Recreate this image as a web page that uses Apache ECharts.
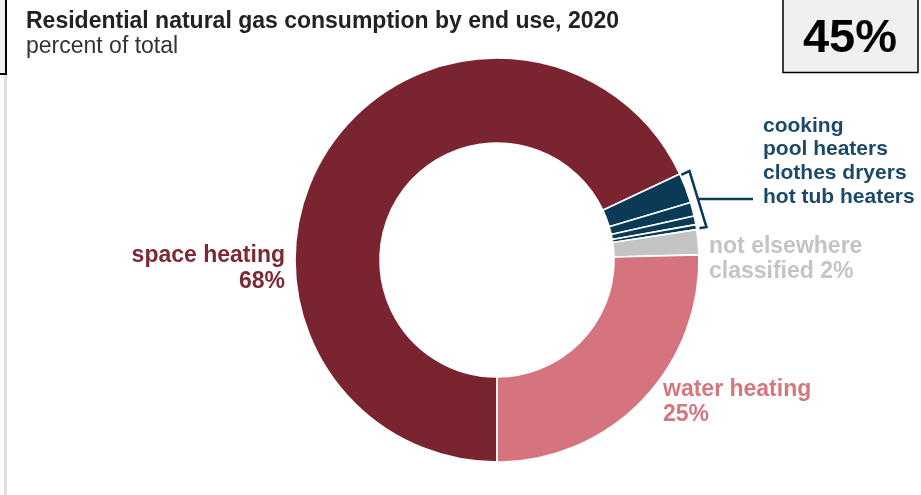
<!DOCTYPE html>
<html>
<head>
<meta charset="utf-8">
<script src="https://cdn.jsdelivr.net/npm/echarts@6/dist/echarts.min.js"></script>
<style>
html,body{margin:0;padding:0;background:#fff;}
#chart{width:921px;height:495px;}
</style>
</head>
<body>
<div id="chart"></div>
<script>
// ---- data ----
const titleText = 'Residential natural gas consumption by end use, 2020';
const subtitleText = 'percent of total';
const categories = ['space heating', 'cooking', 'pool heaters', 'clothes dryers', 'hot tub heaters', 'not elsewhere classified', 'water heating'];
const values = [68, 2.4, 1.1, 0.7, 0.4, 2.0, 25.4];
const badgeText = '45%';

// ---- styles ----
const sliceColors = ['#7a2430', '#0a3a56', '#0a3a56', '#0a3a56', '#0a3a56', '#c4c4c4', '#d5747f'];
const FONT = '"Liberation Sans", Arial, sans-serif';
const cx = 497, cy = 260, rIn = 117, rOut = 202;

const chart = echarts.init(document.getElementById('chart'), null, {renderer: 'canvas'});

const total = values.reduce((a, b) => a + b, 0);
function boundaryAngle(idx) { // math angle (deg) at cumulative boundary before idx
  let s = 0;
  for (let i = 0; i < idx; i++) s += values[i];
  return -90 - 360 * s / total;
}
function pt(angDeg, r) {
  const a = angDeg * Math.PI / 180;
  return [cx + r * Math.cos(a), cy - r * Math.sin(a)];
}

// bracket around the small navy slices (indices 1..4)
const a0 = boundaryAngle(1) - 0.4, a1 = boundaryAngle(5) + 0.3;
const p1 = pt(a0, 203), p2 = pt(a0, 212), p3 = pt(a1, 212), p4 = pt(a1, 205);
const mid = [(p2[0] + p3[0]) / 2, (p2[1] + p3[1]) / 2];

const pct = v => Math.round(v) + '%';
const necWords = categories[5].split(' ');

const labelSpace = categories[0] + '\n' + pct(values[0]);
const labelSmall = categories.slice(1, 5).join('\n');
const labelNec = necWords.slice(0, 2).join(' ') + '\n' + necWords.slice(2).join(' ') + ' ' + pct(values[5]);
const labelWater = categories[6] + '\n' + pct(values[6]);

const option = {
  animation: false,
  backgroundColor: '#ffffff',
  series: [{
    type: 'pie',
    center: [cx, cy],
    radius: [rIn, rOut],
    startAngle: -90,
    clockwise: true,
    silent: true,
    avoidLabelOverlap: false,
    label: {show: false},
    labelLine: {show: false},
    itemStyle: {borderColor: '#ffffff', borderWidth: 1.6},
    data: categories.map((c, i) => ({name: c, value: values[i], itemStyle: {color: sliceColors[i]}}))
  }],
  graphic: [
    // left frame artefacts
    {type: 'rect', shape: {x: -10, y: -10, width: 16, height: 84}, style: {fill: '#f0f0f0', stroke: '#000', lineWidth: 2}},
    {type: 'rect', shape: {x: 4, y: 75, width: 3, height: 430}, style: {fill: '#e0e0e0'}},
    // badge
    {type: 'rect', shape: {x: 783, y: -3, width: 135, height: 75.5}, style: {fill: '#f0f0f0', stroke: '#000', lineWidth: 1.5}},
    {type: 'text', style: {text: badgeText, x: 850, y: 16, font: 'bold 47px ' + FONT, fill: '#000', align: 'center', verticalAlign: 'top', lineHeight: 46}},
    // title
    {type: 'text', style: {text: titleText, x: 26, y: 10, font: 'bold 23px ' + FONT, fill: '#222', align: 'left', verticalAlign: 'top', lineHeight: 23}},
    {type: 'text', style: {text: subtitleText, x: 26, y: 35, font: '23px ' + FONT, fill: '#333', align: 'left', verticalAlign: 'top', lineHeight: 23}},
    // labels
    {type: 'text', style: {text: labelSpace, x: 285, y: 243, font: 'bold 23px ' + FONT, fill: '#7b2a35', align: 'right', verticalAlign: 'top', lineHeight: 26}},
    {type: 'text', style: {text: labelSmall, x: 763, y: 114, font: 'bold 21px ' + FONT, fill: '#1b4a68', align: 'left', verticalAlign: 'top', lineHeight: 23.7}},
    {type: 'text', style: {text: labelNec, x: 709, y: 234.5, font: 'bold 23px ' + FONT, fill: '#c4c4c4', align: 'left', verticalAlign: 'top', lineHeight: 25}},
    {type: 'text', style: {text: labelWater, x: 663, y: 377.5, font: 'bold 23px ' + FONT, fill: '#d5777f', align: 'left', verticalAlign: 'top', lineHeight: 25}},
    // bracket + leader
    {type: 'polyline', shape: {points: [p1, p2, p3, p4]}, style: {stroke: '#0a3a56', lineWidth: 2.5, fill: null}},
    {type: 'line', shape: {x1: mid[0], y1: mid[1], x2: 753, y2: mid[1]}, style: {stroke: '#0a3a56', lineWidth: 2.5}}
  ]
};
chart.setOption(option);
</script>
</body>
</html>
